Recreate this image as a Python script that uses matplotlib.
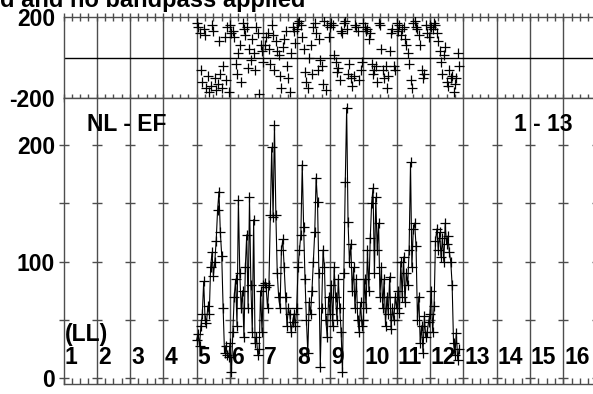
import numpy as np
import matplotlib
matplotlib.use("Agg")
import matplotlib.pyplot as plt
from matplotlib.ticker import MultipleLocator
from matplotlib.transforms import blended_transform_factory

plt.rcParams["font.family"] = ["Liberation Sans", "DejaVu Sans"]
plt.rcParams["font.weight"] = "bold"

# hourly samples, day 5.0 onwards
start_day = 5.0
samples_per_day = 24

amp_d5 = [33, 38, 28, 45, 55, 83, 50, 47, 62, 55, 95, 108, 88, 100, 118, 144, 160, 125, 105, 60, 22, 28, 20, 18]
amp_d6 = [30, 5, 40, 70, 85, 45, 153, 90, 60, 75, 35, 95, 123, 60, 155, 80, 40, 136, 30, 35, 20, 25, 75, 40]
amp_d7 = [80, 82, 78, 60, 80, 140, 198, 138, 217, 140, 90, 70, 60, 110, 119, 95, 70, 45, 60, 55, 40, 48, 55, 45]
amp_d8 = [60, 95, 110, 123, 183, 130, 85, 50, 22, 65, 55, 75, 100, 125, 172, 151, 90, 10, 60, 110, 95, 50, 35, 70]
amp_d9 = [55, 80, 45, 95, 70, 50, 85, 60, 40, 5, 90, 168, 232, 134, 100, 115, 75, 95, 60, 85, 50, 40, 65, 45]
amp_d10 = [50, 85, 60, 110, 75, 120, 150, 163, 90, 155, 110, 133, 70, 95, 60, 85, 45, 70, 55, 87, 42, 60, 50, 70]
amp_d11 = [60, 75, 56, 100, 70, 104, 65, 90, 80, 110, 185, 95, 128, 133, 113, 50, 70, 30, 45, 22, 53, 35, 40, 48]
amp_d12 = [55, 75, 40, 62, 118, 128, 110, 125, 104, 120, 100, 133, 115, 122, 108, 100, 80, 30, 20, 39, 16, 25]

phase_d5 = [170, 150, 120, -60, -120, 140, 110, -150, -90, -170, -140, 160, 130, -100, -160, -130, 80, -80, -150, -40, 100, -110, 150, -170]
phase_d6 = [160, 120, 130, 100, -30, -80, 20, 60, -120, 170, 140, 110, 150, -50, 40, -10, 90, 20, -60, 150, 120, -180, 60, 30]
phase_d7 = [-20, 60, 100, 120, 40, -30, 160, 110, -60, 80, 30, 10, -90, -150, 50, 90, 130, -40, -100, -170, 20, 150, 130, 70]
phase_d8 = [140, 170, 180, 160, 100, 40, -70, -120, -150, 0, 60, -80, 150, 170, 120, -60, 90, -10, -40, -130, 180, -160, 160, 100]
phase_d9 = [150, 170, 160, 10, -20, -70, -50, -110, 130, 120, 170, 180, 140, -80, -30, -100, -140, -90, 160, 150, 130, -110, -60, -20]
phase_d10 = [170, 150, 130, 140, 90, 120, -30, -80, -60, -40, -120, 170, 160, 40, -60, -100, -40, -150, -90, 30, 120, 140, -40, -60]
phase_d11 = [170, 130, 160, 110, 140, 150, 90, 60, 20, -30, -110, -150, 170, 180, 150, 140, 110, 60, -60, -100, -80, 160, 120, 100]
phase_d12 = [160, 150, 140, 170, 160, 120, 80, 30, -20, -80, 10, 50, -120, -140, -60, -100, -90, -170, -130, -100, 20, -40]

day_labels = [str(d) for d in range(1, 17)]
title_text = "d and no bandpass applied"
station_text = "NL - EF"
range_text = "1 - 13"

amp = np.array(amp_d5 + amp_d6 + amp_d7 + amp_d8 + amp_d9 + amp_d10 + amp_d11 + amp_d12, dtype=float)
phase = np.array(phase_d5 + phase_d6 + phase_d7 + phase_d8 + phase_d9 + phase_d10 + phase_d11 + phase_d12, dtype=float)
t_amp = start_day + np.arange(amp.size) / samples_per_day
t_phase = start_day + np.arange(phase.size) / samples_per_day

W, H = 593, 394
fig = plt.figure(figsize=(W / 100, H / 100), dpi=100)


def px_box(left, top, right, bottom):
    return [left / W, 1 - bottom / H, (right - left) / W, (bottom - top) / H]


ax_ph = fig.add_axes(px_box(63.5, 16.7, 596.5, 98.3))
ax_am = fig.add_axes(px_box(63.5, 98.3, 596.5, 384.0))

grid_col = "0.3"
days = np.arange(2, 17)
fs = 16.5

for ax in (ax_ph, ax_am):
    ax.set_xlim(1, 17)
    for d in days:
        ax.axvline(d, color=grid_col, lw=1.0, zorder=1)
    for sp in ax.spines.values():
        sp.set_color(grid_col)
        sp.set_linewidth(1.0)
    ax.xaxis.set_major_locator(MultipleLocator(1))
    ax.xaxis.set_minor_locator(MultipleLocator(0.25))
    ax.set_xticklabels([])

# phase panel
ax_ph.set_ylim(-200, 200)
ax_ph.axhline(0, color="k", lw=1.0, zorder=1)
ax_ph.plot(t_phase, phase, ls="none", marker="+", ms=7, mew=0.9, color="k", zorder=3)
ax_ph.set_yticks([-200, 200])
ax_ph.set_yticklabels(["-200", "200"], fontsize=fs, fontweight="bold")
ax_ph.tick_params(axis="y", length=0, pad=6)
ax_ph.tick_params(axis="x", which="both", direction="inout", length=6, width=1,
                  color=grid_col, top=True, bottom=True, labeltop=False)

# amplitude panel
ax_am.set_ylim(-4.9, 240)
levels = [0, 50, 100, 150, 200]
for lv in levels:
    ax_am.plot(np.arange(1, 18), [lv] * 17, ls="none", marker="_", ms=7.5, mew=1.0,
               color=grid_col, clip_on=False, zorder=2)
ax_am.plot(t_amp, amp, color="k", lw=0.8, marker="+", ms=7, mew=0.9, zorder=3)
ax_am.set_yticks([0, 100, 200])
ax_am.set_yticklabels(["0", "100", "200"], fontsize=fs, fontweight="bold")
ax_am.tick_params(axis="y", length=0, pad=6)
ax_am.tick_params(axis="x", which="both", direction="in", length=4.5, width=1,
                  color=grid_col, top=False, bottom=True)

# text
fig.text(305 / W, 1 - 7 / H, title_text, ha="right", va="baseline",
         fontsize=17, fontweight="bold")
fig.text(87 / W, 1 - 131 / H, station_text, ha="left", va="baseline",
         fontsize=fs, fontweight="bold")
fig.text(573 / W, 1 - 131 / H, range_text, ha="right", va="baseline",
         fontsize=fs, fontweight="bold")
fig.text(65 / W, 1 - 341 / H, "(LL)", ha="left", va="baseline",
         fontsize=fs, fontweight="bold")
lab_tr = blended_transform_factory(ax_am.transData, fig.transFigure)
for i, lab in enumerate(day_labels):
    ax_am.text(i + 1 + 0.03, 1 - 364 / H, lab, transform=lab_tr, ha="left",
               va="baseline", fontsize=fs, fontweight="bold", zorder=4)

fig.savefig("out.png", dpi=100)
